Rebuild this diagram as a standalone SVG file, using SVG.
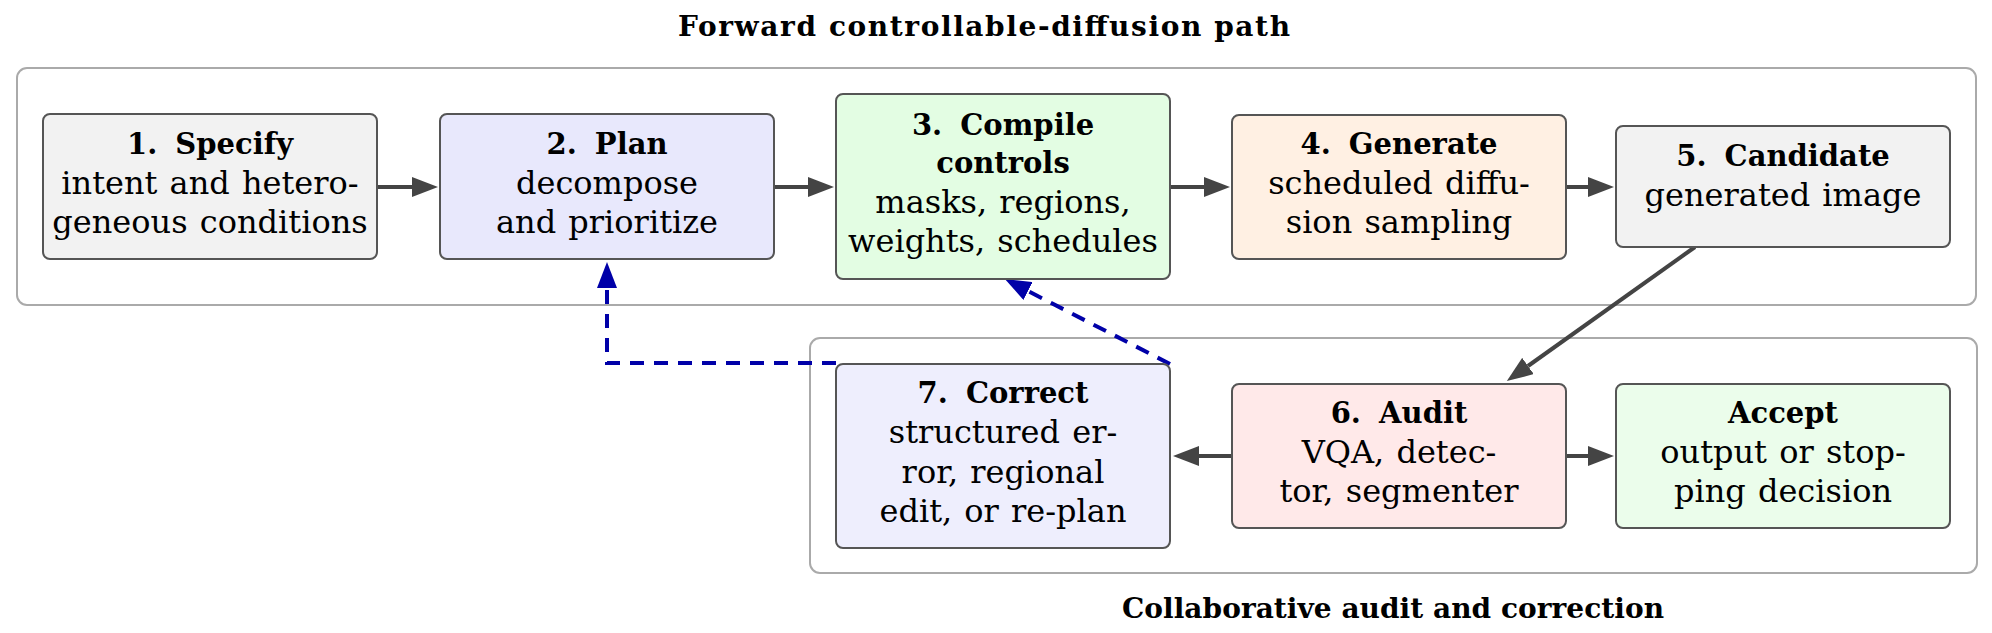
<svg xmlns="http://www.w3.org/2000/svg" width="1992" height="633" viewBox="0 0 1992 633">
<style>
.cont{fill:none;stroke:#aaaaaa;stroke-width:2}
.box{stroke:#555555;stroke-width:2}
.t{font-family:"DejaVu Serif","Liberation Serif",serif;font-size:32px;fill:#000;text-anchor:middle;word-spacing:2px}
.h{font-weight:bold;font-size:29px;word-spacing:0}
.title{font-family:"DejaVu Serif","Liberation Serif",serif;font-size:28px;font-weight:bold;fill:#000;text-anchor:middle}
.ga{fill:none;stroke:#444444;stroke-width:4}
.ba{fill:none;stroke:#0000a8;stroke-width:4;stroke-dasharray:14 10}
</style>
<defs>
<marker id="ag" markerUnits="userSpaceOnUse" viewBox="0 -10 26 20" refX="0" refY="0" markerWidth="26" markerHeight="20" orient="auto"><path d="M0,-10 L26,0 L0,10 Z" fill="#444444"/></marker>
<marker id="ab" markerUnits="userSpaceOnUse" viewBox="0 -10 26 20" refX="0" refY="0" markerWidth="26" markerHeight="20" orient="auto"><path d="M0,-10 L26,0 L0,10 Z" fill="#0000a8"/></marker>
</defs>
<rect width="1992" height="633" fill="#ffffff"/>
<g id="forward-group">
<rect class="cont" x="17" y="68" width="1959" height="237" rx="10"/>
<text class="title" x="984" y="36" textLength="612">Forward controllable-diffusion path</text>
</g>
<g id="audit-group">
<rect class="cont" x="810" y="338" width="1167" height="235" rx="10"/>
<text class="title" x="1393" y="618" textLength="542">Collaborative audit and correction</text>
</g>
<g id="connectors">
<line class="ga" x1="377" y1="187" x2="412" y2="187" marker-end="url(#ag)"/>
<line class="ga" x1="774" y1="187" x2="808" y2="187" marker-end="url(#ag)"/>
<line class="ga" x1="1170" y1="187" x2="1204" y2="187" marker-end="url(#ag)"/>
<line class="ga" x1="1566" y1="187" x2="1588" y2="187" marker-end="url(#ag)"/>
<line class="ga" x1="1232" y1="456" x2="1199" y2="456" marker-end="url(#ag)"/>
<line class="ga" x1="1566" y1="456" x2="1588" y2="456" marker-end="url(#ag)"/>
<line class="ga" x1="1695" y1="247" x2="1528" y2="366" marker-end="url(#ag)"/>
<path class="ba" d="M836,363 H607 V288" marker-end="url(#ab)"/>
<path class="ba" d="M1170,364 L1028,291" marker-end="url(#ab)"/>
</g>
<g id="n1">
<rect class="box" x="43" y="114" width="334" height="145" rx="7" fill="#f2f2f2"/>
<text class="t h" x="210" y="154">1.<tspan dx="8"> Specify</tspan></text>
<text class="t" x="210" y="194">intent and hetero-</text>
<text class="t" x="210" y="233">geneous conditions</text>
</g>
<g id="n2">
<rect class="box" x="440" y="114" width="334" height="145" rx="7" fill="#e8e8fc"/>
<text class="t h" x="607" y="154">2.<tspan dx="8"> Plan</tspan></text>
<text class="t" x="607" y="194">decompose</text>
<text class="t" x="607" y="233">and prioritize</text>
</g>
<g id="n3">
<rect class="box" x="836" y="94" width="334" height="185" rx="7" fill="#e3fde3"/>
<text class="t h" x="1003" y="135">3.<tspan dx="8"> Compile</tspan></text>
<text class="t h" x="1003" y="173">controls</text>
<text class="t" x="1003" y="213">masks, regions,</text>
<text class="t" x="1003" y="252">weights, schedules</text>
</g>
<g id="n4">
<rect class="box" x="1232" y="115" width="334" height="144" rx="7" fill="#fff0e3"/>
<text class="t h" x="1399" y="154">4.<tspan dx="8"> Generate</tspan></text>
<text class="t" x="1399" y="194">scheduled diffu-</text>
<text class="t" x="1399" y="233">sion sampling</text>
</g>
<g id="n5">
<rect class="box" x="1616" y="126" width="334" height="121" rx="7" fill="#f2f2f2"/>
<text class="t h" x="1783" y="166">5.<tspan dx="8"> Candidate</tspan></text>
<text class="t" x="1783" y="206">generated image</text>
</g>
<g id="n7">
<rect class="box" x="836" y="364" width="334" height="184" rx="7" fill="#eeeefd"/>
<text class="t h" x="1003" y="403">7.<tspan dx="8"> Correct</tspan></text>
<text class="t" x="1003" y="443">structured er-</text>
<text class="t" x="1003" y="483">ror, regional</text>
<text class="t" x="1003" y="522">edit, or re-plan</text>
</g>
<g id="n6">
<rect class="box" x="1232" y="384" width="334" height="144" rx="7" fill="#ffe9e9"/>
<text class="t h" x="1399" y="423">6.<tspan dx="8"> Audit</tspan></text>
<text class="t" x="1399" y="463">VQA, detec-</text>
<text class="t" x="1399" y="502">tor, segmenter</text>
</g>
<g id="accept">
<rect class="box" x="1616" y="384" width="334" height="144" rx="7" fill="#ebfdeb"/>
<text class="t h" x="1783" y="423">Accept</text>
<text class="t" x="1783" y="463">output or stop-</text>
<text class="t" x="1783" y="502">ping decision</text>
</g>
</svg>
